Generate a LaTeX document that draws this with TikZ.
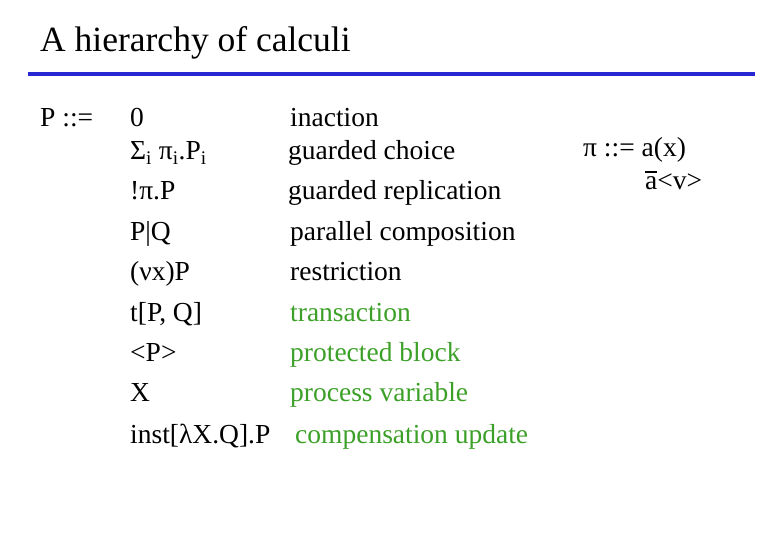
\documentclass[tikz,border=0pt]{standalone}
\usepackage{fontspec}
\setmainfont{Liberation Serif}
\begin{document}
\begin{tikzpicture}[x=1pt,y=-1pt,
  txt/.style={anchor=base west,inner sep=0pt,font=\fontsize{27.5}{32}\selectfont},
  grn/.style={txt,text={rgb,255:red,60;green,160;blue,40}}]
\useasboundingbox (0,0) rectangle (780,540);
\node[anchor=base west,inner sep=0pt,font=\fontsize{35.5}{40}\selectfont] (title) at (40,52) {A hierarchy of calculi};
\draw[line width=3.5pt,color={rgb,255:red,40;green,40;blue,210}] (28,74) -- (755,74);
\node[txt] (P) at (40,127) {P ::=};
\node[txt] (a1) at (130,127) {0};
\node[txt] (a2) at (130,160) {Σ\textsubscript{i} π\textsubscript{i}.P\textsubscript{i}};
\node[txt] (a3) at (130,200) {!π.P};
\node[txt] (a4) at (130,241) {P|Q};
\node[txt] (a5) at (130,281) {(νx)P};
\node[txt] (a6) at (130,322) {t[P, Q]};
\node[txt] (a7) at (130,362) {<P>};
\node[txt] (a8) at (130,402) {X};
\node[txt] (a9) at (130,443) {inst[λX.Q].P};
\node[txt] (b1) at (290,127) {inaction};
\node[txt] (b2) at (288,160) {guarded choice};
\node[txt] (b3) at (288,200) {guarded replication};
\node[txt] (b4) at (290,241) {parallel composition};
\node[txt] (b5) at (290,281) {restriction};
\node[grn] (b6) at (290,322) {transaction};
\node[grn] (b7) at (290,362) {protected block};
\node[grn] (b8) at (290,402) {process variable};
\node[grn] (b9) at (295,443) {compensation update};
\node[txt] (c1) at (583,157) {π ::= a(x)};
\node[txt] (c2) at (645,190) {\rlap{\raisebox{17pt}{\rule{12pt}{1.8pt}}}a<v>};
\end{tikzpicture}
\end{document}
